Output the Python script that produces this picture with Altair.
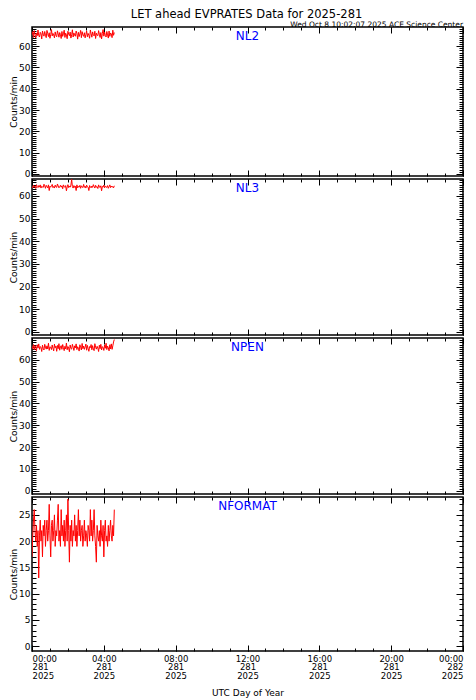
import altair as alt
import pandas as pd

title_text = "LET ahead EVPRATES Data for 2025-281"
stamp_text = "Wed Oct  8 10:02:07 2025 ACE Science Center"
panel_names = ["NL2", "NL3", "NPEN", "NFORMAT"]
y_title = "Counts/min"
x_title = "UTC Day of Year"
sample_minutes = 2.5

nl2 = [
    65.2, 66.8, 64.1, 67.3, 65.5, 63.8, 66.2, 64.9, 67.6, 65.0,
    64.3, 66.5, 65.8, 63.4, 67.1, 65.6, 64.7, 66.9, 65.1, 64.0,
    67.4, 65.9, 64.5, 66.3, 63.7, 65.4, 67.8, 64.8, 66.0, 65.3,
    63.9, 66.7, 65.0, 64.4, 67.2, 65.7, 64.2, 66.4, 65.5, 63.6,
    66.9, 64.6, 65.8, 67.5, 64.1, 66.1, 65.2, 63.5, 67.0, 65.6,
    64.9, 66.6, 63.8, 65.4, 67.7, 64.3, 66.2, 65.0, 64.7, 67.1,
    65.9, 63.3, 66.5, 64.5, 65.7, 67.4, 64.0, 66.8, 65.3, 64.6,
    66.3, 63.9, 65.5, 67.2, 64.4, 66.0, 65.1, 63.7, 67.6, 65.8,
    64.2, 66.7, 65.4, 64.8, 67.0, 63.6, 66.1, 65.2, 64.9, 67.3,
    65.6, 64.1, 66.4, 63.4, 65.9, 67.8, 64.7, 66.6, 65.0, 64.3,
    66.9, 65.3, 63.8, 67.1, 64.6, 66.2, 65.7, 64.0, 67.5, 65.1, 66.4,
]
nl3 = [
    64.1, 63.6, 64.8, 63.9, 64.4, 63.3, 65.0, 64.2, 63.7, 64.6,
    63.9, 64.9, 63.5, 64.3, 64.0, 63.8, 65.2, 64.5, 63.4, 64.7,
    64.1, 63.6, 64.9, 62.4, 64.3, 63.9, 64.6, 65.1, 63.7, 64.2,
    63.5, 64.8, 64.0, 63.8, 65.3, 64.4, 63.6, 64.1, 64.7, 63.9,
    64.5, 63.2, 64.9, 64.2, 63.8, 64.6, 62.3, 64.0, 65.0, 63.7,
    64.4, 63.9, 64.8, 67.3, 64.1, 63.5, 64.6, 63.8, 64.3, 62.4,
    64.9, 63.6, 64.2, 63.9, 64.7, 63.4, 64.5, 64.0, 63.7, 65.1,
    63.8, 64.3, 63.5, 64.8, 64.1, 63.9, 62.4, 64.6, 64.0, 63.6,
    64.4, 63.8, 65.0, 64.2, 63.5, 64.7, 63.9, 64.1, 63.3, 64.9,
    64.0, 63.7, 64.5, 62.3, 64.2, 63.9, 64.8, 63.6, 64.3, 64.0,
    63.8, 64.6, 63.4, 64.1, 64.9, 63.7, 64.4, 63.9, 64.2, 63.6, 64.5,
]
npen = [
    66.2, 65.1, 67.0, 64.6, 66.5, 65.8, 64.2, 66.9, 65.4, 67.3,
    64.8, 66.1, 65.6, 63.8, 66.7, 65.2, 64.5, 67.1, 65.9, 64.9,
    66.4, 65.0, 67.6, 64.3, 66.0, 65.7, 64.7, 66.8, 65.3, 64.1,
    67.2, 65.5, 66.3, 63.9, 66.6, 65.1, 67.4, 64.4, 65.9, 66.5,
    64.8, 67.0, 65.6, 64.2, 66.2, 65.0, 67.7, 64.6, 66.1, 65.4,
    63.7, 66.8, 65.2, 64.9, 67.1, 65.8, 64.3, 66.4, 65.5, 67.3,
    64.7, 66.0, 65.3, 64.0, 66.9, 65.7, 64.5, 67.5, 65.1, 66.3,
    64.8, 65.9, 67.2, 64.4, 66.6, 65.2, 63.9, 66.1, 65.6, 67.0,
    64.6, 66.5, 65.0, 64.2, 67.4, 65.8, 64.9, 66.2, 65.4, 63.8,
    66.7, 65.1, 67.1, 64.5, 66.0, 65.7, 64.3, 66.8, 65.3, 67.6,
    64.7, 66.3, 65.5, 64.1, 66.9, 65.0, 67.3, 64.8, 66.4, 68.2, 69.3,
]
nformat = [
    17, 21, 24, 26, 22, 20, 23, 19, 22, 13,
    21, 24, 20, 22, 17, 23, 21, 24, 19, 22,
    24, 20, 22, 27, 21, 17, 23, 24, 20, 22,
    25, 19, 22, 21, 24, 27, 20, 22, 19, 26,
    21, 23, 20, 24, 19, 22, 25, 20, 28, 22,
    16, 23, 20, 24, 19, 22, 21, 25, 20, 23,
    19, 22, 26, 21, 24, 20, 22, 23, 19, 21,
    24, 20, 22, 21, 19, 23, 22, 20, 26, 21,
    24, 20, 22, 26, 21, 19, 16, 23, 21, 20,
    22, 19, 24, 21, 20, 23, 17, 22, 24, 20,
    21, 19, 23, 20, 22, 24, 21, 20, 23, 21, 26,
]
series = [nl2, nl3, npen, nformat]

y_domains = [[-1, 69], [-1.4, 67.5], [-1.5, 70], [-0.9, 28.4]]
y_major = [[0, 10, 20, 30, 40, 50, 60]] * 3 + [[0, 5, 10, 15, 20, 25]]
y_minor = [list(range(0, 69)), list(range(0, 68)), list(range(0, 70)), list(range(0, 29))]

x_major = [0, 4, 8, 12, 16, 20, 24]
x_minor = list(range(0, 25))
x_tick_time = ["00:00", "04:00", "08:00", "12:00", "16:00", "20:00", "00:00"]
x_tick_day = ["281", "281", "281", "281", "281", "281", "282"]
x_tick_year = ["2025"] * 7

W = 431
heights = [149, 156, 156, 154]
FONT = "DejaVu Sans"

parts = [f"datum.value == {h} ? ['{t}', '{d}', '{y}']"
         for h, t, d, y in zip(x_major, x_tick_time, x_tick_day, x_tick_year)]
label_expr = " : ".join(parts) + " : ''"


def tick_layer(base, xs, ys, xorient, yorient, xvals, yvals, xsize, ysize):
    return base.mark_line(opacity=0).encode(
        x=alt.X("t:Q", scale=xs, axis=alt.Axis(
            orient=xorient, values=xvals, offset=-xsize, tickSize=xsize,
            labels=False, domain=False, grid=False, title=None,
            tickColor="black", tickWidth=1)),
        y=alt.Y("v:Q", scale=ys, axis=alt.Axis(
            orient=yorient, values=yvals, offset=-ysize, tickSize=ysize,
            labels=False, domain=False, grid=False, title=None,
            tickColor="black", tickWidth=1)),
    )


panels = []
for i, vals in enumerate(series):
    df = pd.DataFrame({
        "t": [k * sample_minutes / 60 for k in range(len(vals))],
        "v": vals,
    })
    xs = alt.Scale(domain=[0, 24], nice=False, zero=False)
    ys = alt.Scale(domain=y_domains[i], nice=False, zero=False)
    base = alt.Chart(df)
    if i == 3:
        x0 = alt.X("t:Q", scale=xs, axis=alt.Axis(
            orient="bottom", values=x_major, labelExpr=label_expr,
            ticks=False, tickSize=0, domain=False, grid=False,
            labelFontSize=8.5, labelLineHeight=8.5, labelPadding=3,
            labelColor="black", labelFont=FONT,
            title=x_title, titleFontSize=9, titleFontWeight="normal",
            titleColor="black", titleFont=FONT, titlePadding=9))
    else:
        x0 = alt.X("t:Q", scale=xs, axis=None)
    y0 = alt.Y("v:Q", scale=ys, axis=alt.Axis(
        orient="left", values=y_major[i], ticks=False, tickSize=0,
        domain=False, grid=False, labelFontSize=9, labelPadding=2,
        labelColor="black", labelFont=FONT,
        title=y_title, titleFontSize=9, titleFontWeight="normal",
        titleColor="black", titleFont=FONT, titlePadding=0))
    line = base.mark_line(color="#ff0000", strokeWidth=1, clip=True).encode(x=x0, y=y0)

    layers = [
        line,
        tick_layer(base, xs, ys, "bottom", "left", x_major, y_major[i], 6, 7),
        tick_layer(base, xs, ys, "bottom", "left", x_minor, y_minor[i], 3, 4),
        tick_layer(base, xs, ys, "top", "right", x_major, y_major[i], 6, 7),
        tick_layer(base, xs, ys, "top", "right", x_minor, y_minor[i], 3, 4),
        alt.Chart(pd.DataFrame({"name": [panel_names[i]]})).mark_text(
            font=FONT, fontSize=12, color="#0000ff", align="center", baseline="top"
        ).encode(x=alt.value(W / 2), y=alt.value(4), text="name:N"),
    ]
    if i == 0:
        layers.append(alt.Chart(pd.DataFrame({"s": [title_text]})).mark_text(
            font=FONT, fontSize=11.5, color="black", align="center", baseline="alphabetic"
        ).encode(x=alt.value(W / 2 - 1), y=alt.value(-9), text="s:N"))
        layers.append(alt.Chart(pd.DataFrame({"s": [stamp_text]})).mark_text(
            font=FONT, fontSize=7.5, color="black", align="right", baseline="alphabetic"
        ).encode(x=alt.value(W), y=alt.value(-0.5), text="s:N"))

    p = alt.layer(*layers).resolve_scale(x="shared", y="shared").resolve_axis(
        x="independent", y="independent").properties(width=W, height=heights[i])
    panels.append(p)

chart = alt.vconcat(*panels, spacing=3, bounds="flush").properties(
    padding={"left": 0, "top": 0, "right": 0, "bottom": 0},
    background="white",
).configure_view(stroke="black", strokeWidth=1.5)

chart.save("out.html", embed_options={"renderer": "svg", "actions": False})
